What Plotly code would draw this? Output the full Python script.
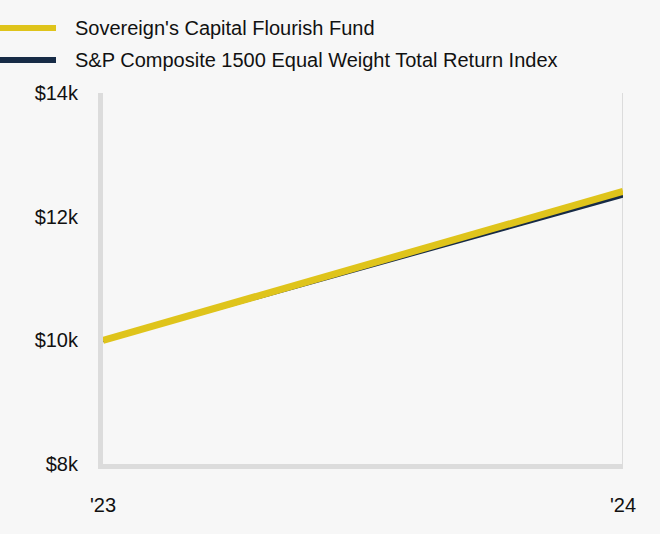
import plotly.graph_objects as go

years = [2023, 2024]
fund_values = [10000, 12410]
index_values = [10000, 12340]
fund_name = "Sovereign's Capital Flourish Fund"
index_name = "S&P Composite 1500 Equal Weight Total Return Index"
y_ticks = [8000, 10000, 12000, 14000]
y_tick_labels = ["$8k", "$10k", "$12k", "$14k"]
x_tick_labels = ["'23", "'24"]

YELLOW = "#dfc41b"
NAVY = "#172b46"
GRID = "#dcdcdc"
BG = "#f7f7f7"
FONT = "Liberation Sans, Arial, sans-serif"

fig = go.Figure()
fig.add_trace(go.Scatter(x=years, y=index_values, mode="lines", name=index_name,
                         line=dict(color=NAVY, width=4), showlegend=False))
fig.add_trace(go.Scatter(x=years, y=fund_values, mode="lines", name=fund_name,
                         line=dict(color=YELLOW, width=7), showlegend=False))

# right border line
fig.add_shape(type="line", xref="x", yref="paper", x0=years[-1], x1=years[-1], y0=0, y1=1,
              line=dict(color=GRID, width=2), layer="below")

# manual legend
legend_items = [(fund_name, YELLOW, 28), (index_name, NAVY, 60)]
for name, color, ypx in legend_items:
    fig.add_shape(type="line", xref="paper", yref="paper",
                  x0=-103/520, x1=(56-103)/520,
                  y0=1 + (93-ypx)/371, y1=1 + (93-ypx)/371,
                  line=dict(color=color, width=6))
    fig.add_annotation(xref="paper", yref="paper", x=(73-103)/520, y=1 + (93-ypx)/371,
                       text=name, showarrow=False, xanchor="left", yanchor="middle",
                       font=dict(family=FONT, size=20, color="#111111"))

fig.update_layout(
    width=660, height=534,
    margin=dict(l=103, r=37, t=93, b=70),
    paper_bgcolor=BG, plot_bgcolor=BG,
    font=dict(family=FONT, size=20, color="#111111"),
    xaxis=dict(range=[years[0], years[-1]], tickvals=years, ticktext=x_tick_labels,
               showgrid=False, zeroline=False, showline=True, linecolor=GRID, linewidth=5,
               ticks="", ticklabelstandoff=19, tickfont=dict(size=20)),
    yaxis=dict(range=[8000, 14000], tickvals=y_ticks, ticktext=y_tick_labels,
               showgrid=False, zeroline=False, showline=True, linecolor=GRID, linewidth=5,
               ticks="", ticklabelstandoff=16, tickfont=dict(size=20)),
)

fig.write_html("out.html", config={"displayModeBar": False},
               post_script="document.body.style.margin='0';document.body.style.background='#f7f7f7';")
